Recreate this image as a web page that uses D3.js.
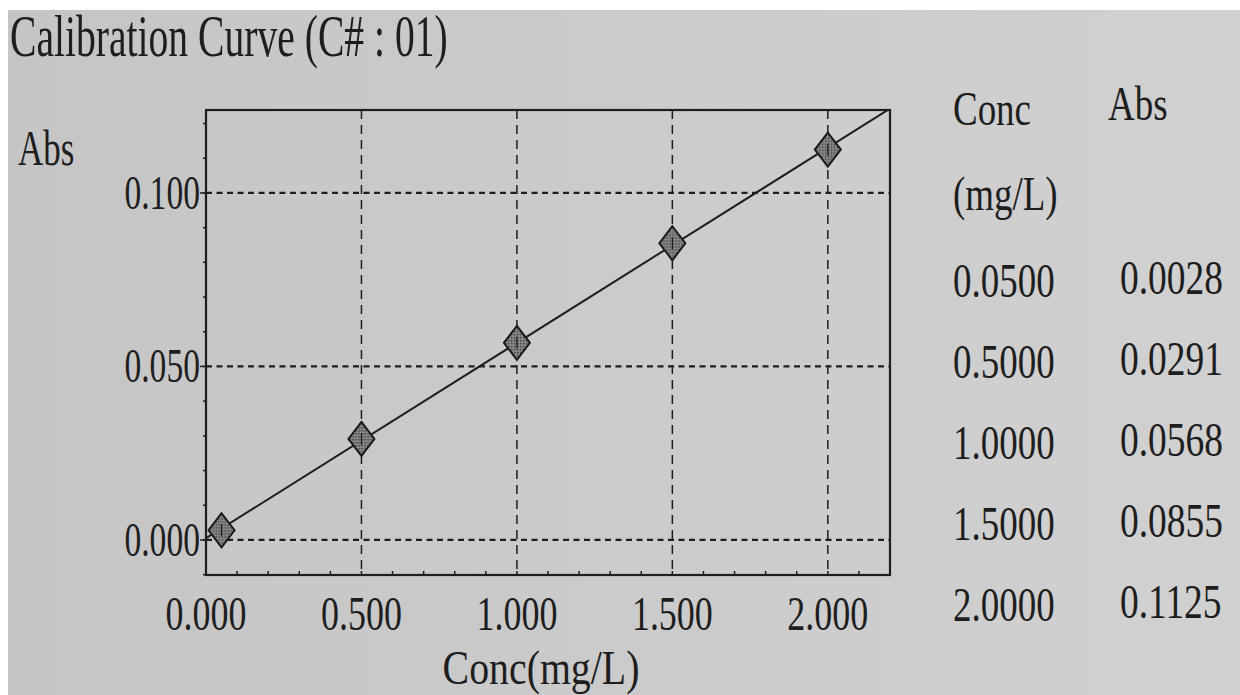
<!DOCTYPE html>
<html><head><meta charset="utf-8">
<script src="https://cdn.jsdelivr.net/npm/d3@7"></script>
<style>body{margin:0;background:#fff;overflow:hidden}</style>
</head><body>
<svg id="c" width="1240" height="695"></svg>
<script>
// ---- data ----
const concValues = [0.05, 0.5, 1.0, 1.5, 2.0];
const absValues = [0.0028, 0.0291, 0.0568, 0.0855, 0.1125];
const xTicks = [0, 0.5, 1.0, 1.5, 2.0];
const yTicks = [0, 0.05, 0.1];
const xTickLabels = ["0.000", "0.500", "1.000", "1.500", "2.000"];
const yTickLabels = ["0.000", "0.050", "0.100"];
const tableConcLabels = ["0.0500", "0.5000", "1.0000", "1.5000", "2.0000"];
const tableAbsLabels = ["0.0028", "0.0291", "0.0568", "0.0855", "0.1125"];
const titleText = "Calibration Curve (C# : 01)";

// ---- setup ----
const svg = d3.select("#c");
const ink = "#1e1e1e";
const font = "'Liberation Serif', 'Times New Roman', serif";

const defs = svg.append("defs");
const bg = defs.append("linearGradient").attr("id", "bg").attr("x1", 0).attr("x2", 1).attr("y1", 0).attr("y2", 0);
bg.append("stop").attr("offset", "0%").attr("stop-color", "#c5c5c5");
bg.append("stop").attr("offset", "100%").attr("stop-color", "#d1d1d1");
const pat = defs.append("pattern").attr("id", "hatch").attr("patternUnits", "userSpaceOnUse")
  .attr("width", 3).attr("height", 3);
pat.append("rect").attr("width", 3).attr("height", 3).attr("fill", "#8a8a8a");
pat.append("rect").attr("width", 1.5).attr("height", 1.5).attr("fill", "#3a3a3a");

svg.append("rect").attr("x", 8).attr("y", 10).attr("width", 1232).attr("height", 685).attr("fill", "url(#bg)");

const L = 206, R = 890, T = 110, B = 575;
const x = d3.scaleLinear().domain([0, 2.2]).range([L, R]);
const y = d3.scaleLinear().domain([-0.0101, 0.1239]).range([B, T]);

defs.append("clipPath").attr("id", "plotclip").append("rect")
  .attr("x", L).attr("y", T).attr("width", R - L).attr("height", B - T);

function txt(px, py, s, size, sx, anchor) {
  return svg.append("text")
    .attr("transform", `translate(${px},${py}) scale(${sx},1)`)
    .attr("text-anchor", anchor || "start")
    .attr("font-family", font).attr("font-size", size).attr("fill", ink)
    .text(s);
}

// ---- grid ----
const g = svg.append("g");
g.selectAll(".hg").data(yTicks).join("line")
  .attr("x1", L).attr("x2", R).attr("y1", d => y(d)).attr("y2", d => y(d))
  .attr("stroke", ink).attr("stroke-width", 2.2).attr("stroke-dasharray", "6,4.5");
g.selectAll(".vg").data(xTicks.filter(d => d > 0)).join("line")
  .attr("x1", d => x(d)).attr("x2", d => x(d)).attr("y1", T).attr("y2", B)
  .attr("stroke", ink).attr("stroke-width", 1.5).attr("stroke-dasharray", "9,6");

// ---- minor ticks ----
const yMinor = d3.range(-0.01, 0.1201, 0.01);
g.selectAll(".ym").data(yMinor).join("line")
  .attr("x1", L - 3).attr("x2", L + 1).attr("y1", d => y(d)).attr("y2", d => y(d))
  .attr("stroke", ink).attr("stroke-width", 1.5);
g.selectAll(".yM").data(yTicks).join("line")
  .attr("x1", L - 6).attr("x2", L).attr("y1", d => y(d)).attr("y2", d => y(d))
  .attr("stroke", ink).attr("stroke-width", 1.5);
const xMinor = d3.range(0.1, 2.15, 0.1);
g.selectAll(".xm").data(xMinor).join("line")
  .attr("x1", d => x(d)).attr("x2", d => x(d)).attr("y1", B).attr("y2", B - 4)
  .attr("stroke", ink).attr("stroke-width", 1.5);

// ---- frame ----
svg.append("rect").attr("x", L).attr("y", T).attr("width", R - L).attr("height", B - T)
  .attr("fill", "none").attr("stroke", ink).attr("stroke-width", 2.2);

// ---- regression line ----
const n = concValues.length;
const mx = d3.mean(concValues), my = d3.mean(absValues);
let sxy = 0, sxx = 0;
for (let i = 0; i < n; i++) { sxy += (concValues[i] - mx) * (absValues[i] - my); sxx += (concValues[i] - mx) ** 2; }
const slope = sxy / sxx, icpt = my - slope * mx;
svg.append("line").attr("clip-path", "url(#plotclip)")
  .attr("x1", x(0)).attr("y1", y(icpt)).attr("x2", x(2.2)).attr("y2", y(icpt + slope * 2.2))
  .attr("stroke", ink).attr("stroke-width", 2);

// ---- points ----
const pts = svg.append("g").selectAll("g").data(concValues).join("g")
  .attr("transform", (d, i) => `translate(${x(d)},${y(absValues[i])})`);
pts.append("path").attr("d", "M0,-17L13,0L0,17L-13,0Z")
  .attr("fill", "url(#hatch)").attr("stroke", "#1a1a1a").attr("stroke-width", 2);
pts.append("line").attr("x1", 0).attr("x2", 0).attr("y1", -6).attr("y2", 6)
  .attr("stroke", "#1a1a1a").attr("stroke-width", 1.2);

// ---- tick labels ----
yTicks.forEach((d, i) => txt(200, y(d) + 16, yTickLabels[i], 48, 0.7, "end"));
xTicks.forEach((d, i) => txt(x(d), 630, xTickLabels[i], 48, 0.75, "middle"));

// ---- axis titles ----
txt(18, 165, "Abs", 50, 0.7);
txt(541, 684, "Conc(mg/L)", 48, 0.83, "middle");
txt(10, 56, titleText, 60, 0.66);

// ---- table ----
txt(953, 125, "Conc", 48, 0.77);
txt(1108, 120, "Abs", 48, 0.77);
txt(953, 210, "(mg/L)", 48, 0.77);
tableConcLabels.forEach((s, i) => txt(953, 297 + i * 81, s, 48, 0.77));
tableAbsLabels.forEach((s, i) => txt(1120, 294 + i * 81, s, 48, 0.78));
</script>
</body></html>
